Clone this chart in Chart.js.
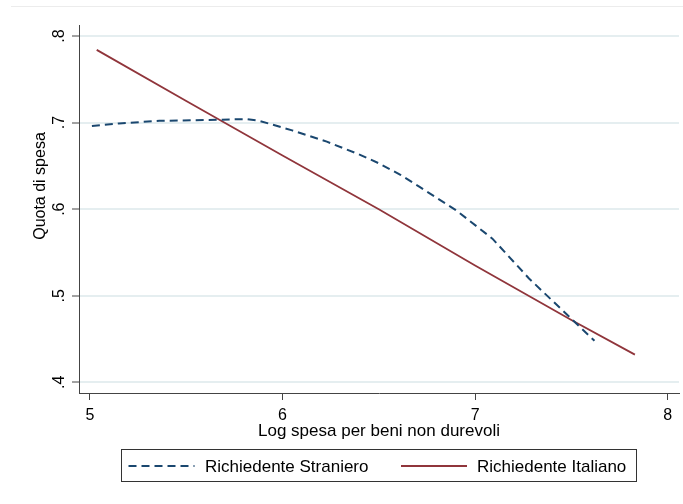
<!DOCTYPE html>
<html><head><meta charset="utf-8">
<script src="https://cdn.jsdelivr.net/npm/chart.js@4/dist/chart.umd.min.js"></script>
<style>html,body{margin:0;padding:0;background:#fff}#wrap{width:683px;height:504px;position:relative}</style>
</head><body><div id="wrap"><canvas id="c" width="683" height="504"></canvas></div>
<script>
// ---- data ----
const stranieroX = [5.01, 5.15, 5.36, 5.60, 5.81, 5.88, 6.05, 6.23, 6.40, 6.50, 6.61, 6.71, 6.90, 7.09, 7.28, 7.45, 7.62];
const stranieroY = [0.696, 0.699, 0.702, 0.703, 0.704, 0.702, 0.691, 0.678, 0.663, 0.653, 0.640, 0.626, 0.599, 0.566, 0.520, 0.484, 0.448];
const italianoX = [5.035, 5.5, 6.0, 6.5, 7.0, 7.5, 7.83];
const italianoY = [0.784, 0.725, 0.662, 0.600, 0.535, 0.472, 0.432];
const seriesLabels = ['Richiedente Straniero', 'Richiedente Italiano'];
const xTickValues = [5, 6, 7, 8];
const xTickLabels = ['5', '6', '7', '8'];
const yTickValues = [0.4, 0.5, 0.6, 0.7, 0.8];
const yTickLabels = ['.4', '.5', '.6', '.7', '.8'];
const xTitle = 'Log spesa per beni non durevoli';
const yTitle = 'Quota di spesa';

const FONT = '"Liberation Sans", Arial, Helvetica, sans-serif';
const BLUE = '#1a476f';
const RED = '#90353b';
const AXIS = '#444';

const toPts = (xs, ys) => xs.map((x, i) => ({x: x, y: ys[i]}));

const extras = {
  id: 'extras',
  afterDraw(chart) {
    const ctx = chart.ctx;
    const ca = chart.chartArea;
    ctx.save();
    // faint outer frame line
    ctx.strokeStyle = '#ececec';
    ctx.lineWidth = 1;
    ctx.beginPath(); ctx.moveTo(11, 6.5); ctx.lineTo(683, 6.5); ctx.stroke();
    // y axis title
    ctx.fillStyle = '#000';
    ctx.font = '16px ' + FONT;
    ctx.textAlign = 'center';
    ctx.textBaseline = 'alphabetic';
    ctx.save();
    ctx.translate(44.5, 186);
    ctx.rotate(-Math.PI / 2);
    ctx.fillText(yTitle, 0, 0);
    ctx.restore();
    // legend
    const cx = (ca.left + ca.right) / 2;
    const bx = Math.round(cx - 258) + 0.5, by = 449.5, bw = 515, bh = 32;
    ctx.strokeStyle = '#333';
    ctx.lineWidth = 1;
    ctx.strokeRect(bx, by, bw, bh);
    const ds = chart.data.datasets;
    const items = [{x0: bx + 7, tx: bx + 83.5}, {x0: bx + 279.5, tx: bx + 355.5}];
    ds.forEach((d, i) => {
      const it = items[i];
      ctx.save();
      ctx.strokeStyle = d.borderColor;
      ctx.lineWidth = d.borderWidth;
      ctx.setLineDash(d.borderDash || []);
      ctx.beginPath(); ctx.moveTo(it.x0, 466); ctx.lineTo(it.x0 + 66, 466); ctx.stroke();
      ctx.restore();
      ctx.fillStyle = '#000';
      ctx.font = '17px ' + FONT;
      ctx.textAlign = 'left';
      ctx.textBaseline = 'alphabetic';
      ctx.fillText(d.label, it.tx, 472);
    });
    ctx.restore();
  }
};

new Chart(document.getElementById('c'), {
  type: 'line',
  data: {
    datasets: [
      {label: seriesLabels[0], data: toPts(stranieroX, stranieroY), borderColor: BLUE, borderWidth: 2, borderDash: [8, 5], pointRadius: 0, fill: false, tension: 0},
      {label: seriesLabels[1], data: toPts(italianoX, italianoY), borderColor: RED, borderWidth: 1.8, pointRadius: 0, fill: false, tension: 0}
    ]
  },
  options: {
    responsive: false,
    devicePixelRatio: 1,
    animation: false,
    layout: {padding: {top: 25, right: 4, bottom: 61, left: 0}},
    plugins: {legend: {display: false}, tooltip: {enabled: false}},
    scales: {
      x: {
        type: 'linear', min: 4.943, max: 8.059,
        afterBuildTicks: s => { s.ticks = xTickValues.map(v => ({value: v})); },
        afterFit: s => { s.height = 50; },
        ticks: {callback: (v, i) => xTickLabels[i], autoSkip: false, maxRotation: 0, minRotation: 0, padding: 6, color: '#000', font: {family: FONT, size: 16}},
        grid: {drawOnChartArea: false, drawTicks: true, tickLength: 7, tickColor: AXIS, tickWidth: 1},
        border: {display: true, color: AXIS, width: 1},
        title: {display: true, text: xTitle, color: '#000', font: {family: FONT, size: 17}, padding: {top: 0, bottom: 1}}
      },
      y: {
        type: 'linear', min: 0.3877, max: 0.8127,
        afterBuildTicks: s => { s.ticks = yTickValues.map(v => ({value: v})); },
        afterFit: s => { s.width = 79; },
        ticks: {callback: (v, i) => yTickLabels[i], autoSkip: false, minRotation: 90, maxRotation: 90, crossAlign: 'center', padding: 6, color: '#000', font: {family: FONT, size: 16}},
        grid: {color: '#e5eef0', lineWidth: 2, drawTicks: true, tickLength: 7, tickColor: AXIS, tickWidth: 1},
        border: {display: true, color: AXIS, width: 1}
      }
    }
  },
  plugins: [extras]
});
</script>
</body></html>
